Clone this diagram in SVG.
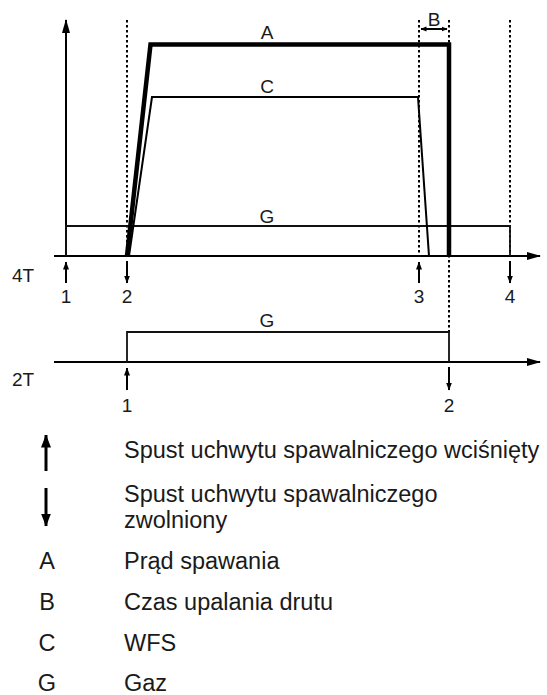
<svg xmlns="http://www.w3.org/2000/svg" width="547" height="695" viewBox="0 0 547 695">
  <style>
    .lbl { font-family: "Liberation Sans", Arial, sans-serif; font-size: 19px; fill: #1a1a1a; }
    .leg { font-family: "Liberation Sans", Arial, sans-serif; font-size: 23.5px; fill: #1a1a1a; }
    .mid { text-anchor: middle; }
    .axis { stroke: #000; stroke-width: 2; fill: none; }
    .dot { stroke: #000; stroke-width: 2; stroke-dasharray: 2.5 2.5; fill: none; }
    .trig { stroke: #000; stroke-width: 2; fill: none; }
    .gas { stroke: #111; stroke-width: 1.8; fill: none; }
    .wfs { stroke: #000; stroke-width: 2; fill: none; stroke-linejoin: miter; }
    .cur { stroke: #000; stroke-width: 4.5; fill: none; stroke-linejoin: miter; }
    .legarrow { stroke: #000; stroke-width: 3; fill: none; }
  </style>
  <defs>
    <marker id="axisHead" markerUnits="userSpaceOnUse" markerWidth="14" markerHeight="10" viewBox="0 0 14 10" refX="13" refY="5" orient="auto">
      <path d="M0,1 L14,5 L0,9 z" fill="#000"/>
    </marker>
    <marker id="smallHead" markerUnits="userSpaceOnUse" markerWidth="8" markerHeight="7" viewBox="0 0 8 7" refX="7.5" refY="3.5" orient="auto">
      <path d="M0,0.5 L8,3.5 L0,6.5 z" fill="#000"/>
    </marker>
    <marker id="dimHead" markerUnits="userSpaceOnUse" markerWidth="6" markerHeight="6" viewBox="0 0 6 6" refX="5.5" refY="3" orient="auto-start-reverse">
      <path d="M0,0.5 L6,3 L0,5.5 z" fill="#000"/>
    </marker>
    <marker id="legHead" markerUnits="userSpaceOnUse" markerWidth="13" markerHeight="11" viewBox="0 0 13 11" refX="12.5" refY="5.5" orient="auto">
      <path d="M0,0.5 L13,5.5 L0,10.5 z" fill="#000"/>
    </marker>
  </defs>

  <!-- axes -->
  <g id="axes">
    <line class="axis" x1="66" y1="257" x2="66" y2="20" marker-end="url(#axisHead)"/>
    <line class="axis" x1="54" y1="256" x2="540" y2="256" marker-end="url(#axisHead)"/>
    <line class="axis" x1="54" y1="362" x2="540" y2="362" marker-end="url(#axisHead)"/>
  </g>

  <!-- time markers -->
  <g id="guides">
    <line class="dot" x1="127" y1="20" x2="127" y2="256"/>
    <line class="dot" x1="419" y1="20" x2="419" y2="256"/>
    <line class="dot" x1="449" y1="20" x2="449" y2="332"/>
    <line class="dot" x1="510" y1="20" x2="510" y2="256"/>
  </g>

  <!-- 4T signals -->
  <g id="gas-4t">
    <polyline class="gas" points="66,256 66,226 510,226 510,256"/>
    <text class="lbl mid" x="267" y="223">G</text>
  </g>
  <g id="wfs">
    <polyline class="wfs" points="129,256 152,97 418,97 429,256"/>
    <text class="lbl mid" x="267" y="93">C</text>
  </g>
  <g id="current">
    <polyline class="cur" points="127,256 150.5,44.5 449,44.5 449,256"/>
    <text class="lbl mid" x="267" y="39">A</text>
  </g>
  <g id="burnback">
    <line class="trig" x1="421" y1="29" x2="447" y2="29" stroke-width="1.8" marker-start="url(#dimHead)" marker-end="url(#dimHead)"/>
    <text class="lbl mid" x="434" y="26">B</text>
  </g>

  <!-- 4T trigger events -->
  <g id="mode-4t">
    <text class="lbl" x="12" y="282">4T</text>
    <line class="trig" x1="66" y1="283" x2="66" y2="262" marker-end="url(#smallHead)"/>
    <line class="trig" x1="127" y1="261" x2="127" y2="283" marker-end="url(#smallHead)"/>
    <line class="trig" x1="419" y1="283" x2="419" y2="262" marker-end="url(#smallHead)"/>
    <line class="trig" x1="510" y1="261" x2="510" y2="283" marker-end="url(#smallHead)"/>
    <text class="lbl mid" x="66" y="303">1</text>
    <text class="lbl mid" x="127" y="303">2</text>
    <text class="lbl mid" x="419" y="303">3</text>
    <text class="lbl mid" x="510" y="303">4</text>
  </g>

  <!-- 2T mode -->
  <g id="mode-2t">
    <polyline class="gas" points="127,362 127,332 449,332 449,362"/>
    <text class="lbl mid" x="267" y="327">G</text>
    <text class="lbl" x="12" y="386">2T</text>
    <line class="trig" x1="127" y1="390" x2="127" y2="368" marker-end="url(#smallHead)"/>
    <line class="trig" x1="449" y1="367" x2="449" y2="390" marker-end="url(#smallHead)"/>
    <text class="lbl mid" x="127" y="412">1</text>
    <text class="lbl mid" x="449" y="412">2</text>
  </g>

  <!-- legend -->
  <g id="legend">
    <line class="legarrow" x1="46" y1="471" x2="46" y2="435" marker-end="url(#legHead)"/>
    <text class="leg" x="124" y="458">Spust uchwytu spawalniczego wciśnięty</text>
    <line class="legarrow" x1="46" y1="488" x2="46" y2="526" marker-end="url(#legHead)"/>
    <text class="leg" x="124" y="502">Spust uchwytu spawalniczego</text>
    <text class="leg" x="124" y="528">zwolniony</text>
    <text class="leg mid" x="47" y="569">A</text>
    <text class="leg" x="124" y="569">Prąd spawania</text>
    <text class="leg mid" x="47" y="610">B</text>
    <text class="leg" x="124" y="610">Czas upalania drutu</text>
    <text class="leg mid" x="47" y="651">C</text>
    <text class="leg" x="124" y="651">WFS</text>
    <text class="leg mid" x="47" y="691">G</text>
    <text class="leg" x="124" y="691">Gaz</text>
  </g>
</svg>
